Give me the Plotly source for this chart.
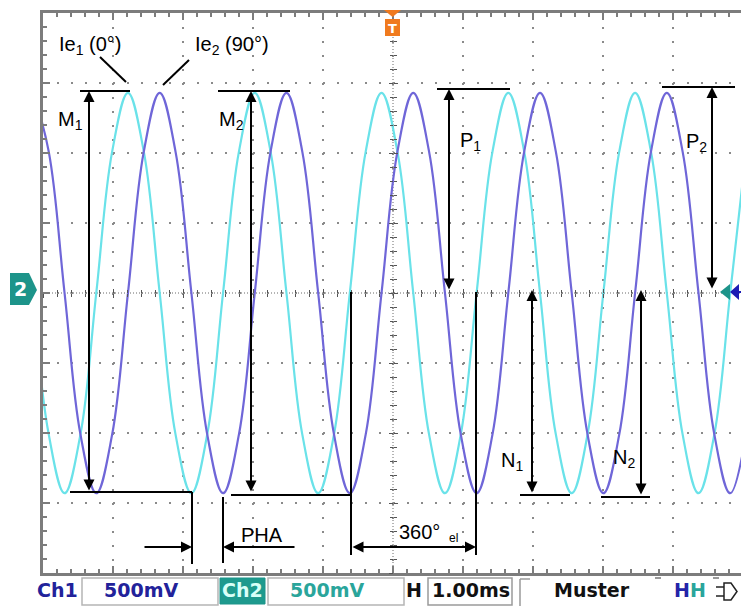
import plotly.graph_objects as go

# ---------------- data ----------------
# time (ms, trigger at 0) sampled every 1/8 period, Ch1 = Ie1 (0°), Ch2 = Ie2 (90°), volts
time_ms = [-5.144, -4.918, -4.692, -4.465, -4.239, -4.012,
           -3.786, -3.560, -3.333, -3.107, -2.880, -2.654, -2.428, -2.201,
           -1.975, -1.749, -1.522, -1.296, -1.069, -0.843, -0.617, -0.390,
           -0.164, 0.063, 0.289, 0.515, 0.742, 0.968, 1.194, 1.421,
           1.647, 1.874, 2.100, 2.326, 2.553, 2.779, 3.005, 3.232,
           3.458, 3.685, 3.911, 4.137, 4.364, 4.590, 4.817, 5.043]
ie1_volts = [0.0, -1.01, -1.43, -1.01, 0.0, 1.01,
             1.43, 1.01, 0.0, -1.01, -1.43, -1.01, 0.0, 1.01,
             1.43, 1.01, 0.0, -1.01, -1.43, -1.01, 0.0, 1.01,
             1.43, 1.01, 0.0, -1.01, -1.43, -1.01, 0.0, 1.01,
             1.43, 1.01, 0.0, -1.01, -1.43, -1.01, 0.0, 1.01,
             1.43, 1.01, 0.0, -1.01, -1.43, -1.01, 0.0, 1.01]
ie2_volts = [1.43, 1.01, 0.0, -1.01, -1.43, -1.01,
             0.0, 1.01, 1.43, 1.01, 0.0, -1.01, -1.43, -1.01,
             0.0, 1.01, 1.43, 1.01, 0.0, -1.01, -1.43, -1.01,
             0.0, 1.01, 1.43, 1.01, 0.0, -1.01, -1.43, -1.01,
             0.0, 1.01, 1.43, 1.01, 0.0, -1.01, -1.43, -1.01,
             0.0, 1.01, 1.43, 1.01, 0.0, -1.01, -1.43, -1.01]

channel_names = ["Ch1", "Ch2"]
volts_per_div = ["500mV", "500mV"]
time_per_div = "1.00ms"
mode_label = "Muster"

x_range = [-5.0, 4.971]
y_range = [-2.0, 2.0]

CYAN = "#6ae2e9"
PURPLE = "#6f66d8"
NAVY = "#22229a"
TEAL = "#1d948a"
GRAYLINE = "#7c7c7c"

# ---------------- helpers (pixel -> paper) ----------------
PL, PT, PW, PH = 43, 13, 698, 560
def fx(x): return (x - PL) / PW
def fy(y): return (PT + PH - y) / PH

shapes, annotations = [], []

def line(x0, y0, x1, y1, color="black", width=2, dash=None, layer="above"):
    shapes.append(dict(type="line", xref="paper", yref="paper",
                       x0=fx(x0), y0=fy(y0), x1=fx(x1), y1=fy(y1),
                       line=dict(color=color, width=width, dash=dash), layer=layer))

def rect(x0, y0, x1, y1, line_color="#b5b5b5", fill=None, width=1.5):
    shapes.append(dict(type="rect", xref="paper", yref="paper",
                       x0=fx(x0), y0=fy(y0), x1=fx(x1), y1=fy(y1),
                       line=dict(color=line_color, width=width),
                       fillcolor=fill if fill else "rgba(0,0,0,0)"))

def poly(points, fill, line_color=None, width=0):
    path = "M " + " L ".join(f"{fx(x):.5f},{fy(y):.5f}" for x, y in points) + " Z"
    shapes.append(dict(type="path", xref="paper", yref="paper", path=path,
                       fillcolor=fill,
                       line=dict(color=line_color or fill, width=width)))

def arrow(xt, yt, xs, ys, both=False):
    annotations.append(dict(x=fx(xt), y=fy(yt), xref="paper", yref="paper",
                            ax=xs - xt, ay=ys - yt, text="", showarrow=True,
                            arrowhead=2, arrowsize=1.1, arrowwidth=2, arrowcolor="black",
                            arrowside="end+start" if both else "end",
                            startarrowhead=2, startarrowsize=1.1))

def label(x, y, text, size=20, color="black", family="Liberation Sans", xanchor="center"):
    annotations.append(dict(x=fx(x), y=fy(y), xref="paper", yref="paper", text=text,
                            showarrow=False, xanchor=xanchor, yanchor="middle",
                            font=dict(family=family, size=size, color=color)))

# ---------------- figure ----------------
fig = go.Figure()
fig.add_trace(go.Scatter(x=time_ms, y=ie1_volts, mode="lines", name="Ie1",
                         line=dict(color=CYAN, width=2.2, shape="spline", smoothing=1.1)))
fig.add_trace(go.Scatter(x=time_ms, y=ie2_volts, mode="lines", name="Ie2",
                         line=dict(color=PURPLE, width=2.2, shape="spline", smoothing=1.1)))
# empty traces so that the centre-cross tick axes get drawn
for xa, ya in [("x2", "y"), ("x3", "y"), ("x", "y2"), ("x", "y3")]:
    fig.add_trace(go.Scatter(x=[None], y=[None], xaxis=xa, yaxis=ya,
                             showlegend=False, hoverinfo="skip"))

# centre cross lines
line(PL, 293, 741, 293, color="#6a6a6a", width=1, dash="1px,2px", layer="below")
line(393, PT, 393, PT + PH, color="#6a6a6a", width=1, dash="1px,2px", layer="below")

# ---- measurement annotations ----
line(100, 57, 126, 82)        # Ie1 pointer
line(189, 60, 163, 85)        # Ie2 pointer
line(80, 91, 130, 91)         # M1 top
line(70, 492, 192, 492)       # M1 bottom
line(192, 492, 192, 564)
line(218, 91, 290, 91)        # M2 top
line(231, 495, 351, 495)      # M2 bottom
line(223, 497, 223, 563)      # PHA
line(351, 292, 351, 555)      # 360 el
line(476, 292, 476, 555)
line(437, 89, 510, 89)        # P1 top
line(662, 87, 735, 87)        # P2 top
line(520, 495, 570, 495)      # N1 bottom
line(601, 497, 650, 497)      # N2 bottom

arrow(89, 91, 89, 492, both=True)      # M1
arrow(251, 91, 251, 493, both=True)    # M2
arrow(449, 89, 449, 291, both=True)    # P1
arrow(712, 87, 712, 290, both=True)    # P2
arrow(532, 290, 532, 494, both=True)   # N1
arrow(641, 290, 641, 496, both=True)   # N2
arrow(192, 547, 143, 547)              # PHA left
arrow(223, 547, 296, 547)              # PHA right
arrow(476, 547, 351, 547, both=True)   # 360 el

label(90, 45, "Ie<sub>1</sub> (0°)")
label(232, 45, "Ie<sub>2</sub> (90°)")
label(70, 121, "M<sub>1</sub>")
label(231, 120, "M<sub>2</sub>")
label(470, 141, "P<sub>1</sub>")
label(696, 143, "P<sub>2</sub>")
label(512, 461, "N<sub>1</sub>")
label(624, 458, "N<sub>2</sub>")
label(262, 535, "PHA")
label(419, 532, "360°")
label(453, 538, "el", size=12)

# ---- screen markers ----
# trigger "T"
poly([(384, 10), (401, 10), (392.5, 17)], "#f07a1e")
poly([(385, 19), (400, 19), (400, 36), (385, 36)], "#f07a1e")
label(392.5, 28, "<b>T</b>", size=13, color="white", family="DejaVu Sans")
# channel 2 ground tag
poly([(10, 273), (29, 273), (37, 290), (29, 305), (10, 305)], TEAL)
label(20, 289, "<b>2</b>", size=19, color="white", family="DejaVu Sans")
# right-side level arrows
poly([(720, 292), (730, 284), (730, 300)], TEAL)
poly([(730, 292), (739, 284), (739, 300)], "#1c1cb4")
line(737, 292, 741, 292, color="#1c1cb4", width=2)

# ---- status bar ----
BF = "DejaVu Sans"
BS = 19
label(57, 590, f"<b>{channel_names[0]}</b>", size=BS, color=NAVY, family=BF)
rect(82, 578, 218, 605)
label(102, 590, f"<b>{volts_per_div[0]}</b>", size=BS, color=NAVY, family=BF, xanchor="left")
rect(220, 578, 265, 604, line_color=TEAL, fill="#1e9a8e", width=1)
label(242.5, 590, f"<b>{channel_names[1]}</b>", size=BS, color="#d8fff8", family=BF)
rect(268, 578, 404, 605)
label(288, 590, f"<b>{volts_per_div[1]}</b>", size=BS, color="#2aa59b", family=BF, xanchor="left")
label(414, 590, "<b>H</b>", size=BS, color="#111111", family=BF)
rect(428, 578, 512, 605, line_color="#9a9a9a")
label(430, 590, f"<b>{time_per_div}</b>", size=BS, color="#111111", family=BF, xanchor="left")
line(520, 579, 520, 606, color="#9a9a9a", width=1.5)
line(520, 579, 530, 579, color="#9a9a9a", width=1.5)
label(552, 590, f"<b>{mode_label}</b>", size=BS, color="#111111", family=BF, xanchor="left")
line(655, 578, 661, 578, color="#777", width=1.5)
line(713, 578, 719, 578, color="#777", width=1.5)
label(672, 590, "<b>H</b>", size=BS, color="#2424a8", family=BF, xanchor="left")
label(688, 590, "<b>H</b>", size=BS, color="#2aa59b", family=BF, xanchor="left")
line(716, 587, 724, 587, color="#222", width=1.5)
line(716, 596, 724, 596, color="#222", width=1.5)
poly([(724, 583), (731, 583), (737, 591.5), (731, 600), (724, 600)], "rgba(0,0,0,0)",
     line_color="#222", width=1.5)

axis_common = dict(showticklabels=False, zeroline=False)
center_tick = dict(showgrid=False, showline=False, tickcolor="#555", tickwidth=1,
                   **axis_common)

fig.update_layout(
    width=741, height=606,
    margin=dict(l=PL, r=0, t=PT, b=606 - PT - PH, pad=0),
    paper_bgcolor="white", plot_bgcolor="white",
    showlegend=False,
    font=dict(family="Liberation Sans"),
    xaxis=dict(range=x_range, dtick=1, tick0=0, showgrid=True, gridcolor="#8a8a8a",
               gridwidth=2, griddash="2px,12px",
               showline=True, linewidth=3, linecolor=GRAYLINE, mirror="ticks",
               ticks="inside", ticklen=7, tickcolor=GRAYLINE, tickwidth=1.5,
               minor=dict(ticks="inside", dtick=0.2, ticklen=4, tickcolor=GRAYLINE,
                          tickwidth=1.5, showgrid=False),
               **axis_common),
    yaxis=dict(range=y_range, dtick=0.5, tick0=0, showgrid=True, gridcolor="#8a8a8a",
               gridwidth=2, griddash="2px,12px",
               showline=True, linewidth=3, linecolor=GRAYLINE, mirror=False,
               ticks="inside", ticklen=7, tickcolor=GRAYLINE, tickwidth=1.5,
               minor=dict(ticks="inside", dtick=0.1, ticklen=4, tickcolor=GRAYLINE,
                          tickwidth=1.5, showgrid=False),
               **axis_common),
    xaxis2=dict(overlaying="x", anchor="free", position=0.5, range=x_range, dtick=1, tick0=0,
                ticks="inside", ticklen=4,
                minor=dict(ticks="inside", dtick=0.2, ticklen=3, tickcolor="#555"),
                **center_tick),
    xaxis3=dict(overlaying="x", anchor="free", position=0.5, range=x_range, dtick=1, tick0=0,
                ticks="outside", ticklen=4,
                minor=dict(ticks="outside", dtick=0.2, ticklen=3, tickcolor="#555"),
                **center_tick),
    yaxis2=dict(overlaying="y", anchor="free", position=(393 - PL) / PW, range=y_range,
                dtick=0.5, tick0=0, ticks="inside", ticklen=4,
                minor=dict(ticks="inside", dtick=0.1, ticklen=3, tickcolor="#555"),
                **center_tick),
    yaxis3=dict(overlaying="y", anchor="free", position=(393 - PL) / PW, range=y_range,
                dtick=0.5, tick0=0, ticks="outside", ticklen=4,
                minor=dict(ticks="outside", dtick=0.1, ticklen=3, tickcolor="#555"),
                **center_tick),
    shapes=shapes,
    annotations=annotations,
)

fig.write_html("out.html", config={"displayModeBar": False},
               post_script="document.body.style.margin='0px';document.body.style.overflow='hidden';")
